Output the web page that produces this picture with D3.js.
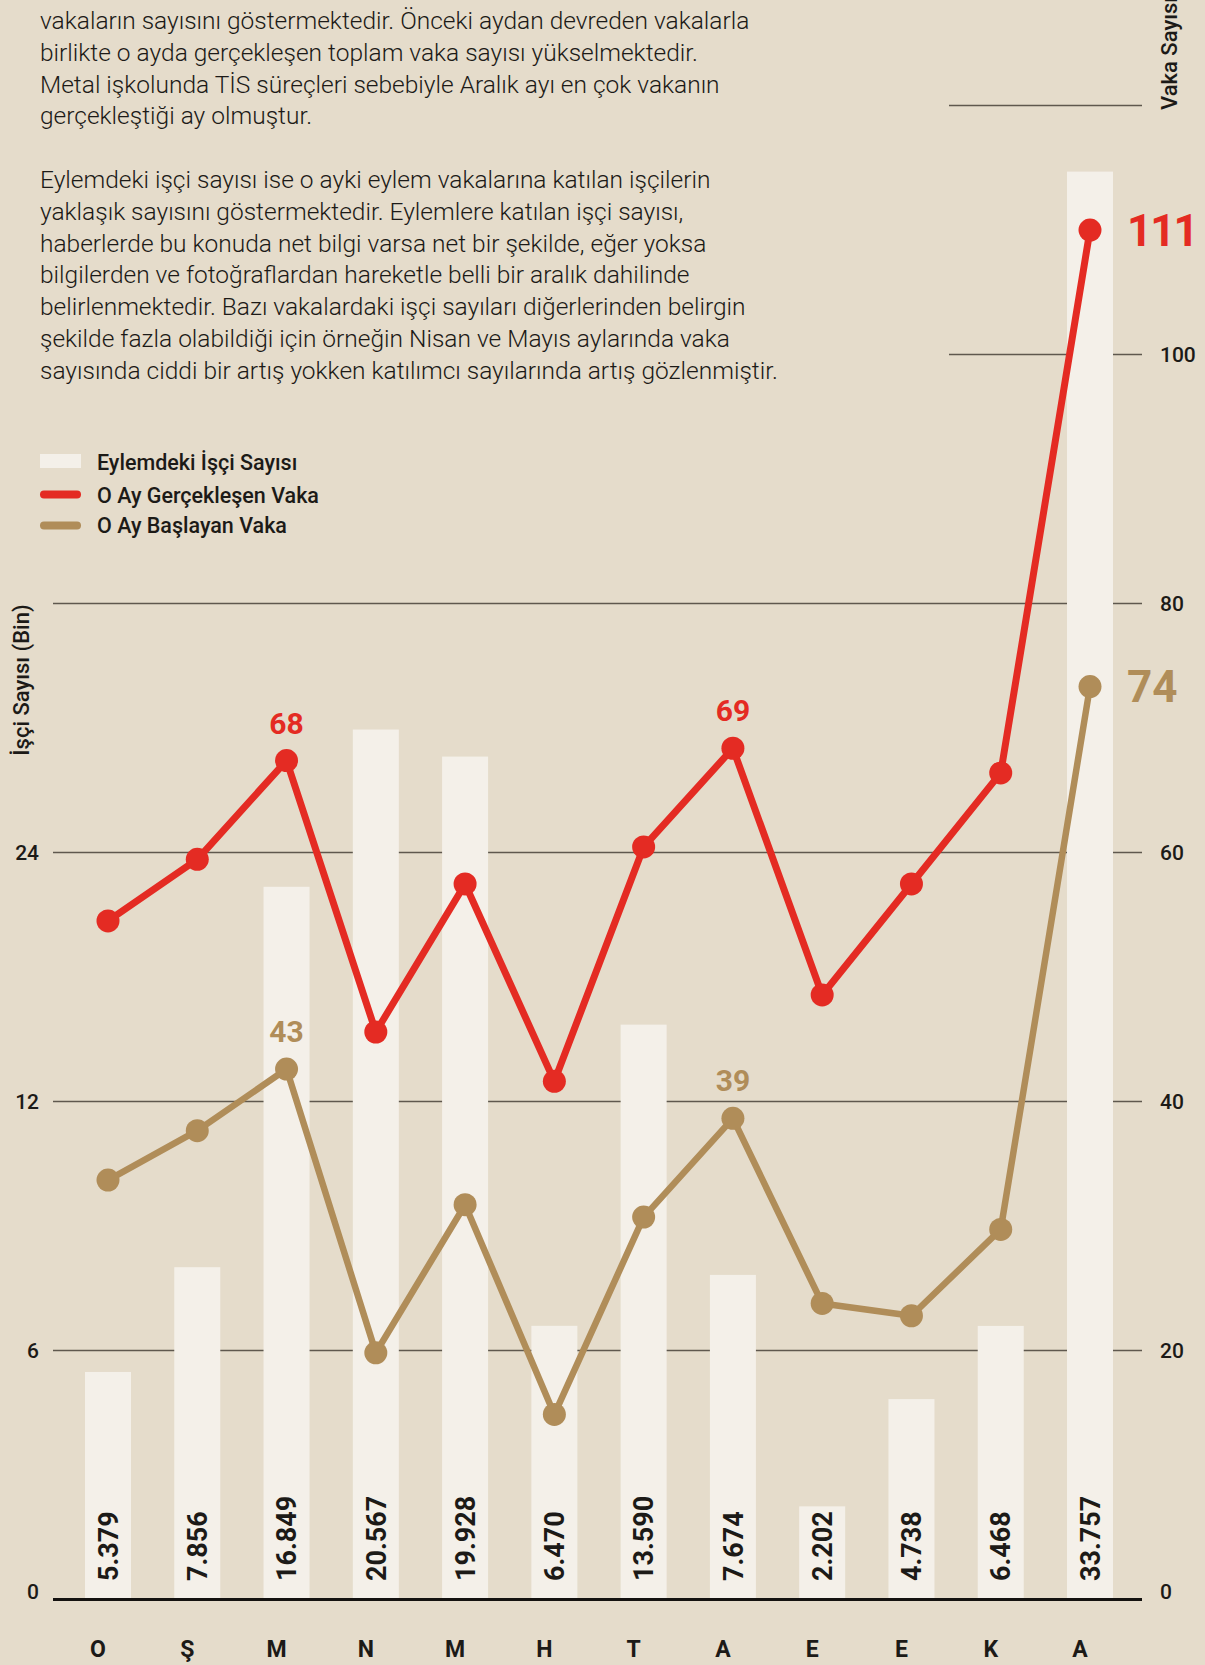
<!DOCTYPE html>
<html>
<head>
<meta charset="utf-8">
<script src="https://cdn.jsdelivr.net/npm/d3@7"></script>
<style>
  html, body { margin: 0; padding: 0; background: #e5dccb; }
  svg { display: block; font-family: Roboto, "Noto Sans", sans-serif; }
</style>
</head>
<body>
<svg id="chart" width="1205" height="1665"></svg>
<script>
// data
const months = ["O", "Ş", "M", "N", "M", "H", "T", "A", "E", "E", "K", "A"];
const workers = [5379, 7856, 16849, 20567, 19928, 6470, 13590, 7674, 2202, 4738, 6468, 33757];
const realized = [55, 60, 68, 46, 58, 42, 61, 69, 49, 58, 67, 111];
const started = [34, 38, 43, 20, 32, 15, 31, 39, 24, 23, 30, 74];
const rightTicks = [0, 20, 40, 60, 80, 100, 120];
const leftTicks = ["0", "6", "12", "24"];
const labelIdx = [2, 7];

const introLines = [
  "vakaların sayısını göstermektedir. Önceki aydan devreden vakalarla",
  "birlikte o ayda gerçekleşen toplam vaka sayısı yükselmektedir.",
  "Metal işkolunda TİS süreçleri sebebiyle Aralık ayı en çok vakanın",
  "gerçekleştiği ay olmuştur.",
  "",
  "Eylemdeki işçi sayısı ise o ayki eylem vakalarına katılan işçilerin",
  "yaklaşık sayısını göstermektedir. Eylemlere katılan işçi sayısı,",
  "haberlerde bu konuda net bilgi varsa net bir şekilde, eğer yoksa",
  "bilgilerden ve fotoğraflardan hareketle belli bir aralık dahilinde",
  "belirlenmektedir. Bazı vakalardaki işçi sayıları diğerlerinden belirgin",
  "şekilde fazla olabildiği için örneğin Nisan ve Mayıs aylarında vaka",
  "sayısında ciddi bir artış yokken katılımcı sayılarında artış gözlenmiştir."
];

const RED = "#e42b23";
const BROWN = "#b08d59";
const BAR = "#f4f0e9";
const INK = "#1c1a17";

const svg = d3.select("#chart");

const y0 = 1599.5, yTop = 105.5;
const x = d3.scalePoint().domain(d3.range(months.length)).range([108, 1090]);
const barW = 46;
const y = d3.scaleLinear().domain([0, 120]).range([y0, yTop]);
const yLine = d3.scaleLinear().domain([0, 121.1]).range([y0, yTop]);
const yBar = d3.scaleLinear().domain([0, 35320]).range([y0, yTop]);

const tr = d3.formatLocale({ decimal: ",", thousands: ".", grouping: [3], currency: ["", " ₺"] });
const fmt = tr.format(",d");

// intro text
svg.append("g")
  .selectAll("text")
  .data(introLines)
  .join("text")
  .attr("x", 40)
  .attr("y", (d, i) => 29 + i * 31.8)
  .attr("font-family", "'Roboto Light', Roboto, sans-serif")
  .attr("font-size", 24.5)
  .attr("font-weight", 300)
  .attr("fill", INK)
  .text(d => d);

// legend
const legend = svg.append("g").attr("transform", "translate(40,0)");
legend.append("rect").attr("x", 0).attr("y", 454).attr("width", 41).attr("height", 14).attr("fill", BAR);
[[RED, 494.5], [BROWN, 525.5]].forEach(([c, ly]) => {
  legend.append("line")
    .attr("x1", 4).attr("x2", 37).attr("y1", ly).attr("y2", ly)
    .attr("stroke", c).attr("stroke-width", 8).attr("stroke-linecap", "round");
});
legend.selectAll("text.lg")
  .data(["Eylemdeki İşçi Sayısı", "O Ay Gerçekleşen Vaka", "O Ay Başlayan Vaka"])
  .join("text")
  .attr("x", 57)
  .attr("y", (d, i) => [462, 495, 525][i])
  .attr("dy", "0.35em")
  .attr("font-size", 21.5)
  .attr("font-weight", 500)
  .attr("fill", INK)
  .text(d => d);

// gridlines
svg.append("g")
  .selectAll("line")
  .data(rightTicks.filter(d => d > 0))
  .join("line")
  .attr("x1", d => d >= 100 ? 949 : 53)
  .attr("x2", 1142)
  .attr("y1", d => y(d)).attr("y2", d => y(d))
  .attr("stroke", "#5f584e")
  .attr("stroke-width", 1.5);

// bars
svg.append("g")
  .selectAll("rect")
  .data(workers)
  .join("rect")
  .attr("x", (d, i) => x(i) - barW / 2)
  .attr("width", barW)
  .attr("y", d => yBar(d))
  .attr("height", d => y0 - yBar(d))
  .attr("fill", BAR);

// baseline
svg.append("line")
  .attr("x1", 53).attr("x2", 1142)
  .attr("y1", y(0)).attr("y2", y(0))
  .attr("stroke", "#141210").attr("stroke-width", 3);

// bar value labels
svg.append("g")
  .selectAll("text")
  .data(workers)
  .join("text")
  .attr("transform", (d, i) => `translate(${x(i)},1581) rotate(-90)`)
  .attr("dy", "0.36em")
  .attr("font-size", 27)
  .attr("font-weight", 700)
  .attr("fill", INK)
  .text(d => fmt(d));

// month labels (sit a little left of the bar centres, as in the original)
svg.append("g")
  .selectAll("text")
  .data(months)
  .join("text")
  .attr("x", (d, i) => x(i) - 10)
  .attr("y", 1657)
  .attr("text-anchor", "middle")
  .attr("font-size", 23)
  .attr("font-weight", 700)
  .attr("fill", INK)
  .text(d => d);

// right axis labels
svg.append("g")
  .selectAll("text")
  .data(rightTicks.filter(d => d < 120))
  .join("text")
  .attr("x", 1160)
  .attr("y", d => d === 0 ? y(d) - 1 : y(d))
  .attr("dy", d => d === 0 ? 0 : "0.35em")
  .attr("font-size", 21)
  .attr("font-weight", 500)
  .attr("fill", INK)
  .text(d => d);

// left axis labels
svg.append("g")
  .selectAll("text")
  .data(leftTicks)
  .join("text")
  .attr("x", 39)
  .attr("y", (d, i) => i === 0 ? y(rightTicks[i]) - 1 : y(rightTicks[i]))
  .attr("dy", (d, i) => i === 0 ? 0 : "0.35em")
  .attr("text-anchor", "end")
  .attr("font-size", 21)
  .attr("font-weight", 500)
  .attr("fill", INK)
  .text(d => d);

// axis titles
svg.append("text")
  .attr("transform", "translate(21,680) rotate(-90)")
  .attr("dy", "0.35em")
  .attr("text-anchor", "middle")
  .attr("font-size", 22)
  .attr("font-weight", 500)
  .attr("fill", INK)
  .text("İşçi Sayısı (Bin)");

svg.append("text")
  .attr("transform", "translate(1169,110) rotate(-90)")
  .attr("dy", "0.35em")
  .attr("font-size", 22)
  .attr("font-weight", 500)
  .attr("fill", INK)
  .text("Vaka Sayısı");

// lines
const line = d3.line().x((d, i) => x(i)).y(d => yLine(d));

function drawSeries(values, color, width) {
  const g = svg.append("g");
  g.append("path")
    .datum(values)
    .attr("d", line)
    .attr("fill", "none")
    .attr("stroke", color)
    .attr("stroke-width", width)
    .attr("stroke-linejoin", "round");
  g.selectAll("circle")
    .data(values)
    .join("circle")
    .attr("cx", (d, i) => x(i))
    .attr("cy", d => yLine(d))
    .attr("r", 11.5)
    .attr("fill", color);
  g.selectAll("text.pt")
    .data(labelIdx)
    .join("text")
    .attr("x", i => x(i))
    .attr("y", i => yLine(values[i]) - 27)
    .attr("text-anchor", "middle")
    .attr("font-size", 30)
    .attr("font-weight", 700)
    .attr("fill", color)
    .text(i => values[i]);
  const last = values.length - 1;
  g.append("text")
    .attr("x", 1127)
    .attr("y", yLine(values[last]))
    .attr("dy", "0.36em")
    .attr("font-size", 44)
    .attr("font-weight", 700)
    .attr("letter-spacing", values[last] > 99 ? -2 : 0)
    .attr("fill", color)
    .text(values[last]);
}

drawSeries(started, BROWN, 6.5);
drawSeries(realized, RED, 7);
</script>
</body>
</html>
